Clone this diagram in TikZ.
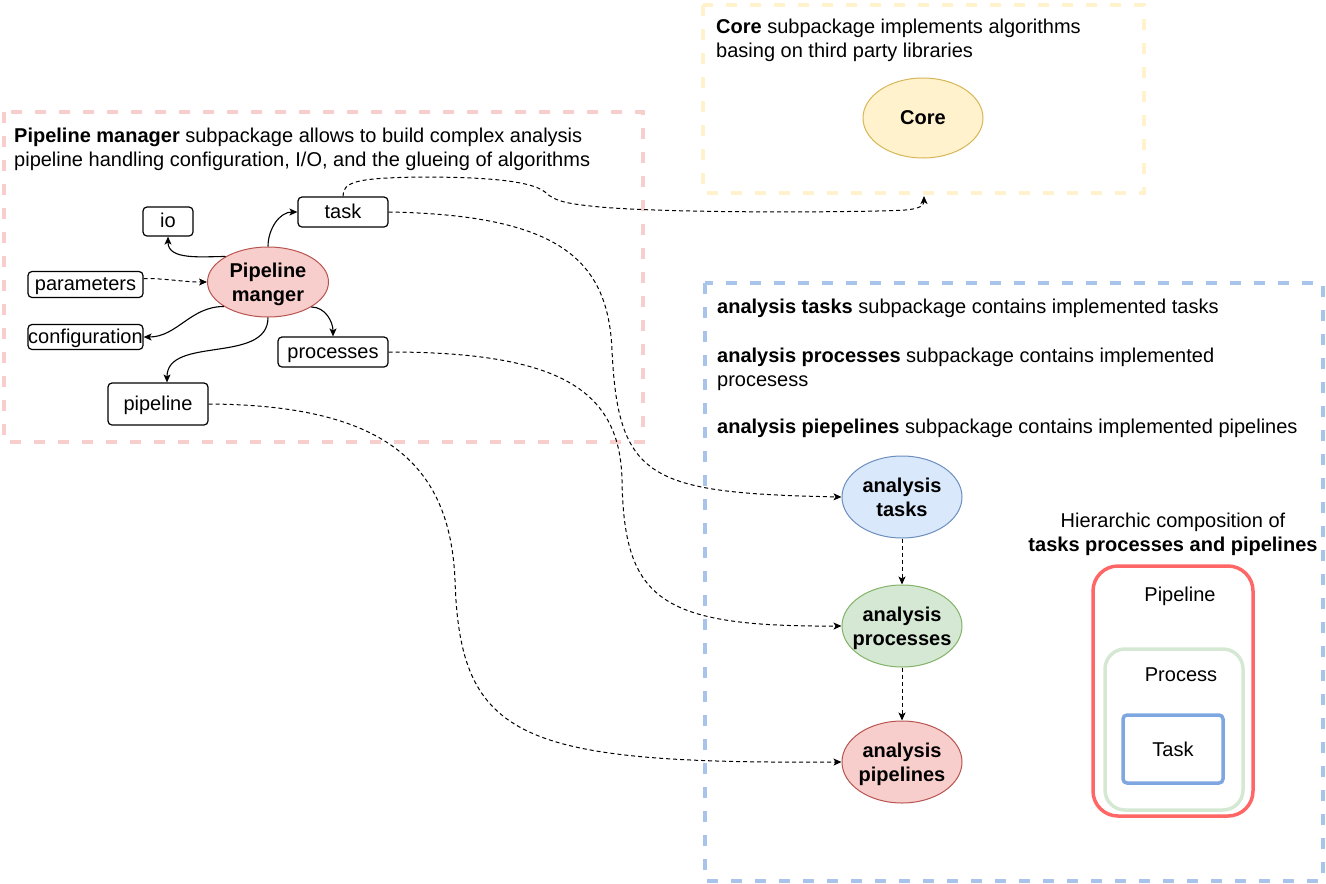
\documentclass[tikz,border=0pt]{standalone}
\usepackage{fontspec}
\setmainfont{Liberation Sans}
\usetikzlibrary{shapes.geometric,arrows.meta}
\definecolor{pinkc}{HTML}{F8CECC}
\definecolor{yellowc}{HTML}{FFF2CC}
\definecolor{bluec}{HTML}{A9C4EB}
\definecolor{redfill}{HTML}{F8CECC}
\definecolor{reddraw}{HTML}{B85450}
\definecolor{corefill}{HTML}{FFF2CC}
\definecolor{coredraw}{HTML}{D6B656}
\definecolor{bluefill}{HTML}{DAE8FC}
\definecolor{bluedraw}{HTML}{6C8EBF}
\definecolor{greenfill}{HTML}{D5E8D4}
\definecolor{greendraw}{HTML}{82B366}
\definecolor{hred}{HTML}{FF6666}
\definecolor{hgreen}{HTML}{D5E8D4}
\definecolor{hblue}{HTML}{7EA6E0}
\begin{document}
\begin{tikzpicture}[x=1pt,y=-1pt,
  every node/.style={font=\fontsize{20}{24}\selectfont},
  container/.style={line width=3.5pt, dash pattern=on 11pt off 13pt},
  box/.style={draw, rounded corners=4pt, line width=1.2pt, inner sep=0pt, text height=16.8pt, text depth=4.2pt},
  ell/.style={ellipse, draw, line width=1pt, minimum width=120pt, minimum height=82pt, inner xsep=-10pt, inner ysep=0pt, text depth=-3.5pt, align=center, font=\bfseries\fontsize{20}{24}\selectfont},
  arr/.style={-{Stealth[length=8pt,width=7pt,inset=2pt]}, line width=1.1pt},
  darr/.style={arr, line width=1pt, dash pattern=on 4pt off 3pt},
  txt/.style={anchor=north west, inner sep=0pt, align=left},
  hbox/.style={line width=3.5pt, inner sep=0pt}]
\useasboundingbox (0,0) rectangle (1326,884);

% containers
\draw[pinkc, container] (4,112) rectangle (643,442);
\draw[yellowc, container] (703,5) rectangle (1144,193);
\draw[bluec, container] (705,283) rectangle (1323,881);

% texts
\node[txt] (pmtext) at (14,127.7) {\textbf{Pipeline manager} subpackage allows to build complex analysis\\pipeline handling configuration, I/O, and the glueing of algorithms};
\node[txt] (coretext) at (716,18.7) {\textbf{Core} subpackage implements algorithms\\basing on third party libraries};
\node[txt] (t1) at (717,298.7) {\textbf{analysis tasks} subpackage contains implemented tasks};
\node[txt] (t2) at (717,347.7) {\textbf{analysis processes} subpackage contains implemented\\procesess};
\node[txt] (t3) at (717,418.7) {\textbf{analysis piepelines} subpackage contains implemented pipelines};

% ellipses
\node[ell, fill=redfill, draw=reddraw, minimum width=121pt, minimum height=70pt] (pm) at (268,282) {Pipeline\\manger};
\node[ell, fill=corefill, draw=coredraw, minimum height=80pt] (core) at (923,118) {Core};
\node[ell, fill=bluefill, draw=bluedraw] (at) at (902,497) {analysis\\tasks};
\node[ell, fill=greenfill, draw=greendraw] (ap) at (902,626) {analysis\\processes};
\node[ell, fill=redfill, draw=reddraw] (apl) at (902,762) {analysis\\pipelines};

% boxes
\node[box, minimum width=50pt, minimum height=29pt] (io) at (168,221.5) {io};
\node[box, minimum width=90pt, minimum height=30pt] (task) at (343,212) {task};
\node[box, minimum width=115pt, minimum height=26pt] (par) at (85.5,284.5) {parameters};
\node[box, minimum width=115pt, minimum height=25pt] (conf) at (85.5,337) {configuration};
\node[box, minimum width=110pt, minimum height=30pt] (proc) at (333,352) {processes};
\node[box, minimum width=100pt, minimum height=42pt] (pipe) at (158,404) {pipeline};

\coordinate (cA) at (924,196);

% solid connectors
\draw[arr] (pm.149) to[out=180,in=-90] (io.south);
\draw[arr] (pm.north) to[out=90,in=180] (task.west);
\draw[darr] ([yshift=6pt]par.east) to[out=0,in=180] (pm.west);
\draw[arr] (pm.209) to[out=180,in=0] (conf.east);
\draw[arr] (pm.330) to[out=0,in=90] (proc.north);
\draw[arr] (pm.south) to[out=-90,in=90] ([xshift=9pt]pipe.north);

% long dashed connectors
\draw[darr] (task.north) .. controls (343,182) and (355,178) .. (420,177)
  .. controls (480,177) and (530,180) .. (545,192)
  .. controls (555,202) and (570,204) .. (600,207)
  .. controls (680,214) and (880,212) .. (905,210)
  .. controls (918,209) and (924,206) .. (cA);
\draw[darr] (task.east) .. controls (560,215) and (608,260) .. (612,350)
  .. controls (618,480) and (650,493) .. (at.west);
\draw[darr] (proc.east) .. controls (560,352) and (620,390) .. (622,480)
  .. controls (624,600) and (660,627) .. (ap.west);
\draw[darr] (pipe.east) .. controls (380,405) and (450,460) .. (455,580)
  .. controls (460,740) and (520,764) .. (apl.west);
\draw[darr] (at.south) -- (ap.north);
\draw[darr] (ap.south) -- (apl.north);

% hierarchy
\node[anchor=north, align=center, inner sep=0pt] (htitle) at (1173,512.4) {Hierarchic composition of\\\textbf{tasks processes and pipelines}};
\node[hbox, draw=hred, rounded corners=25pt, minimum width=160pt, minimum height=250pt] (hp) at (1173,691) {};
\node[hbox, draw=hgreen, rounded corners=20pt, minimum width=138pt, minimum height=161pt] (hpr) at (1174,729.5) {};
\node[hbox, draw=hblue, rounded corners=4pt, minimum width=100pt, minimum height=68pt] (ht) at (1173,749) {};
\node[anchor=base, inner sep=0pt] (hpl) at (1180,601) {Pipeline};
\node[anchor=base, inner sep=0pt] (hprl) at (1181,681) {Process};
\node[anchor=base, inner sep=0pt] (htl) at (1173,756) {Task};
\end{tikzpicture}
\end{document}
